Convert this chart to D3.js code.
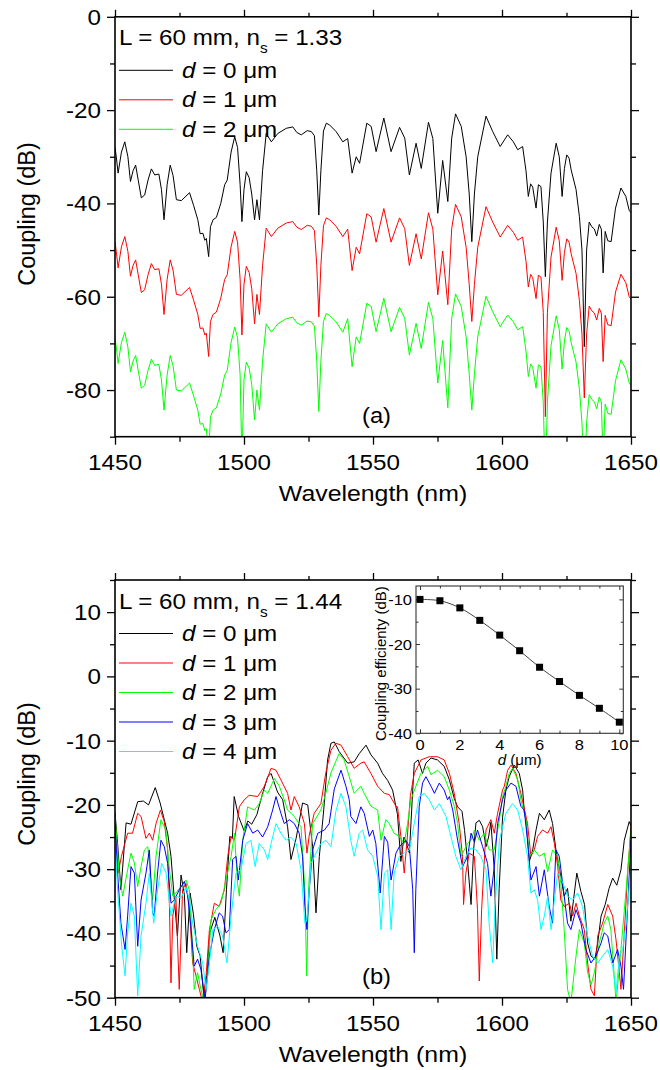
<!DOCTYPE html>
<html><head><meta charset="utf-8">
<script src="https://cdn.jsdelivr.net/npm/d3@7"></script>
<style>
html,body{margin:0;padding:0;background:#fff;}
svg{display:block;font-family:"Liberation Sans",Arial,Helvetica,sans-serif;}
</style></head><body>
<svg id="chart" width="660" height="1070"></svg>
<script>
// ---------------- DATA ----------------
const xTicksMajor = [1450, 1500, 1550, 1600, 1650];
const xTicksMinor = [1475, 1525, 1575, 1625];
const topYTicks = [0, -20, -40, -60, -80];
const topYMinor = [-10, -30, -50, -70, -90];
const botYTicks = [10, 0, -10, -20, -30, -40, -50];
const botYMinor = [15, 5, -5, -15, -25, -35, -45];
const topSeriesNames = ["0", "1", "2"];
const botSeriesNames = ["0", "1", "2", "3", "4"];
const seriesColors = ["#000000", "#ff0000", "#00ff00", "#0000ff", "#00ffff"];

// Panel (a): n_s = 1.33
const topWavelength = [1450.0,1450.5,1451.2,1452.5,1453.8,1455.0,1456.0,1457.0,1458.0,1459.0,
1460.2,1461.5,1462.8,1464.1,1465.4,1467.0,1468.0,1469.0,1470.2,1471.4,
1472.5,1473.8,1475.7,1478.9,1480.5,1482.1,1483.0,1484.1,1484.8,1485.4,
1486.3,1487.0,1488.0,1489.3,1491.0,1492.5,1493.5,1495.0,1496.4,1497.5,
1498.5,1499.2,1500.0,1500.9,1502.0,1503.0,1504.1,1505.0,1506.0,1507.2,
1508.6,1510.6,1513.1,1516.4,1518.9,1520.5,1522.2,1524.5,1526.1,1527.3,
1528.2,1529.0,1529.8,1530.8,1531.9,1533.2,1535.7,1538.3,1540.2,1541.9,
1543.5,1544.8,1547.6,1549.3,1551.2,1554.2,1557.0,1560.3,1562.3,1564.1,
1566.7,1568.7,1571.5,1573.2,1575.1,1577.0,1579.0,1580.5,1582.0,1584.2,
1586.1,1587.3,1588.3,1589.3,1590.6,1593.8,1596.4,1599.3,1602.2,1604.4,
1606.1,1608.0,1609.3,1610.2,1611.1,1611.9,1613.2,1614.1,1615.1,1616.0,
1616.8,1617.6,1619.0,1621.0,1622.2,1623.3,1624.2,1625.1,1626.0,1626.8,
1628.7,1630.0,1631.0,1631.9,1632.8,1633.8,1634.8,1635.8,1636.7,1637.7,
1638.5,1639.2,1640.0,1641.0,1642.3,1644.0,1646.1,1648.0,1649.3,1650.0];
const topD0 = [-28.0,-30.0,-33.5,-29.0,-26.8,-30.0,-35.3,-33.0,-31.8,-35.0,
-38.8,-38.2,-35.0,-32.6,-33.9,-33.7,-37.0,-43.5,-36.0,-31.8,
-34.0,-39.2,-39.4,-37.7,-40.5,-43.5,-46.5,-46.4,-47.9,-47.5,
-51.4,-45.0,-43.5,-43.0,-40.0,-36.0,-35.0,-29.0,-25.7,-28.0,
-36.0,-43.9,-37.0,-33.2,-34.5,-38.0,-43.5,-39.2,-43.5,-33.0,
-25.0,-26.8,-25.0,-23.9,-23.6,-24.8,-25.3,-24.4,-24.6,-25.5,
-33.0,-42.5,-33.0,-24.5,-22.8,-23.2,-24.6,-26.8,-26.1,-33.5,
-30.0,-31.4,-22.8,-23.5,-28.9,-21.7,-28.9,-23.7,-26.0,-33.9,
-27.1,-32.5,-22.6,-26.1,-42.1,-30.8,-39.6,-26.0,-20.8,-23.5,
-30.0,-38.0,-48.2,-38.0,-30.0,-21.3,-24.6,-27.8,-25.3,-26.8,
-28.5,-27.8,-33.0,-38.5,-35.8,-36.5,-41.0,-36.0,-36.4,-44.0,
-55.7,-44.0,-33.5,-27.1,-30.0,-38.5,-32.5,-29.6,-30.3,-32.8,
-37.0,-42.8,-50.0,-70.7,-50.0,-44.0,-45.0,-45.5,-47.0,-44.5,
-45.5,-54.9,-46.0,-48.0,-48.2,-41.0,-36.7,-38.5,-41.5,-42.0];
const topD1 = [-48.3,-50.3,-53.8,-49.3,-47.1,-50.3,-55.6,-53.3,-52.1,-55.3,
-59.1,-58.5,-55.3,-52.9,-54.2,-54.0,-57.3,-63.8,-56.3,-52.1,
-54.3,-59.5,-59.7,-58.0,-60.8,-63.8,-66.8,-66.7,-68.2,-67.8,
-72.8,-65.3,-63.8,-63.3,-60.3,-56.3,-55.3,-49.3,-46.0,-48.3,
-56.3,-68.2,-57.3,-53.5,-54.8,-58.3,-65.8,-59.5,-63.8,-53.3,
-45.3,-47.1,-45.3,-44.2,-43.9,-45.1,-45.6,-44.7,-44.9,-45.8,
-53.3,-64.3,-53.3,-44.8,-43.1,-43.5,-44.9,-47.1,-45.5,-54.4,
-49.4,-50.8,-42.2,-42.9,-48.3,-41.1,-48.3,-43.1,-45.4,-53.3,
-46.5,-51.9,-42.0,-45.5,-59.6,-50.2,-61.7,-45.4,-40.2,-42.9,
-49.4,-57.4,-65.3,-57.4,-49.4,-40.7,-44.0,-47.2,-44.7,-46.2,
-47.9,-47.2,-52.4,-57.9,-55.2,-55.9,-60.4,-55.4,-55.8,-63.4,
-85.7,-63.4,-51.5,-45.1,-48.0,-56.5,-50.5,-47.6,-48.3,-50.8,
-55.0,-60.8,-68.0,-81.7,-68.0,-62.0,-63.0,-63.5,-65.0,-62.5,
-63.5,-73.9,-64.0,-66.0,-66.2,-59.0,-55.2,-57.0,-60.0,-60.5];
const topD2 = [-68.8,-70.8,-74.3,-69.8,-67.6,-70.8,-76.1,-73.8,-72.6,-75.8,
-79.6,-79.0,-75.8,-73.4,-74.7,-74.5,-77.8,-84.3,-76.8,-72.6,
-74.8,-80.0,-80.2,-78.5,-81.3,-84.3,-87.3,-87.2,-88.7,-88.3,
-94.0,-85.8,-84.3,-83.8,-80.8,-76.8,-75.8,-69.8,-66.5,-68.8,
-76.8,-95.0,-77.8,-74.0,-75.3,-78.8,-86.4,-80.0,-84.3,-73.8,
-65.8,-67.6,-65.8,-64.7,-64.4,-65.6,-66.1,-65.2,-65.4,-66.3,
-73.8,-84.6,-73.8,-65.3,-63.6,-64.0,-65.4,-67.6,-64.7,-75.0,
-68.6,-70.0,-61.4,-62.1,-67.5,-60.3,-67.5,-62.3,-64.6,-72.5,
-65.7,-71.1,-61.2,-64.7,-78.5,-69.4,-83.8,-64.6,-59.4,-62.1,
-68.6,-76.6,-84.3,-76.6,-68.6,-59.9,-63.2,-66.4,-63.9,-65.4,
-67.1,-66.4,-71.6,-77.1,-74.4,-75.1,-79.6,-74.6,-75.0,-82.6,
-100.0,-82.6,-70.5,-64.1,-67.0,-75.5,-69.5,-66.6,-67.3,-69.8,
-74.0,-79.8,-87.0,-100.0,-87.0,-81.0,-82.0,-82.5,-84.0,-81.5,
-82.5,-95.0,-83.0,-85.0,-85.2,-78.0,-73.5,-75.5,-78.5,-79.0];

// Panel (b): n_s = 1.44, [wavelength, dB]
const botD0 = [[1450,-21.2],[1451,-26],[1452.3,-33.2],[1453.5,-27],[1454.3,-22.8],[1456.2,-23],[1458.8,-19.5],[1461,-19.4],[1463,-20],[1465.6,-17.3],[1467.5,-19.7],[1469.1,-22.3],[1470.4,-24.4],[1471.7,-28],[1473,-34.7],[1474.2,-40.4],[1475.6,-30.9],[1476.9,-34],[1477.8,-43],[1479.1,-33.7],[1480.4,-37],[1481.7,-42],[1483,-43.5],[1484.4,-49.7],[1485.6,-46.5],[1486.8,-39.8],[1488.7,-37.5],[1490.7,-40.4],[1491.9,-43],[1493.2,-33.2],[1494.5,-24.9],[1495.5,-25.2],[1496.2,-18.7],[1497.9,-21.8],[1500,-24],[1501.5,-22.5],[1503,-23],[1505,-21.5],[1507,-18.5],[1509.2,-15.6],[1510.5,-15.1],[1513,-18],[1515,-19.2],[1516.9,-23.4],[1518.2,-28.5],[1520.2,-25.2],[1522.7,-19.7],[1524.7,-20],[1526.6,-26.5],[1527.9,-36.8],[1529.2,-28],[1530.9,-20.8],[1532.4,-13],[1533.7,-10.4],[1535,-10.2],[1536.9,-11.7],[1540.2,-13.5],[1542.7,-13.3],[1544.7,-12],[1547.3,-10.7],[1549.2,-12.2],[1551.8,-13.5],[1553.7,-15.1],[1555.7,-16.2],[1557.6,-17.7],[1559.5,-21.5],[1560.8,-28.8],[1562,-25],[1563,-26],[1564.1,-27.5],[1565.4,-17.7],[1566,-13.5],[1567.5,-13],[1569.2,-15.1],[1570.5,-13.5],[1572.5,-12.7],[1575,-13],[1577.6,-14],[1579.6,-16.1],[1581.5,-19],[1582.8,-20.3],[1584.5,-21],[1585.5,-24],[1586.7,-29],[1588,-35.5],[1589,-27],[1589.9,-22.8],[1591.2,-22.4],[1592.5,-23.4],[1593.8,-26.5],[1594.8,-25],[1595.7,-22.7],[1597,-30],[1598,-44],[1598.9,-33],[1600.2,-22],[1601.5,-17.7],[1602.8,-15.6],[1604.8,-13.8],[1606.7,-15.1],[1608,-17.7],[1608.6,-20.8],[1609.3,-22.3],[1610.6,-28.8],[1611.9,-27],[1613.2,-23.9],[1614.5,-21.3],[1616.4,-22.3],[1618.3,-20.8],[1619.6,-22.9],[1620.9,-27],[1622.8,-31.1],[1624.1,-34.2],[1625.4,-33],[1626.7,-38.1],[1629,-30.6],[1630.6,-33.5],[1632,-35.5],[1633.2,-41.5],[1634.5,-43.5],[1636,-44],[1637.1,-41.5],[1638.4,-37.3],[1640,-35.5],[1641.5,-33],[1642.9,-31.4],[1644.5,-32.5],[1646.1,-30.1],[1647.4,-25.5],[1649.3,-22.6],[1650,-23.3]];
const botD1 = [[1450,-21.5],[1451.2,-30.6],[1452.5,-28],[1454.9,-24.4],[1456.8,-24.4],[1458.8,-21.3],[1460.1,-21.8],[1462,-25.2],[1463.3,-24.4],[1464.6,-25.5],[1465.9,-22.9],[1467.6,-20.8],[1469.1,-22.6],[1470.4,-27],[1471.1,-35.8],[1471.7,-47.7],[1472.4,-37.3],[1473.6,-34.2],[1474.9,-48.7],[1476.2,-33.2],[1477.5,-32.2],[1478.8,-35.8],[1480.1,-44.6],[1481.4,-46.6],[1482.7,-48.7],[1484,-50.8],[1485.3,-46.6],[1486.6,-39.4],[1488.5,-35.3],[1490.4,-35.8],[1492.4,-33.2],[1493.7,-28],[1495,-24.9],[1496.3,-25.5],[1498.2,-20.3],[1500.1,-19.2],[1502,-18.5],[1505.3,-18.7],[1507.9,-17.1],[1510.5,-14.3],[1512.4,-14.6],[1514.3,-16.1],[1516.9,-18.2],[1518.2,-20.8],[1519.5,-18.7],[1521.4,-20.3],[1523.4,-22.9],[1524.4,-27.5],[1525.3,-24.7],[1527.2,-21.3],[1529.8,-19.8],[1531.7,-15],[1533.7,-11.5],[1535.6,-10.4],[1537.6,-10.7],[1540.2,-12.5],[1542.7,-14.3],[1545.3,-13.5],[1546.6,-13.3],[1549.2,-15.1],[1551.8,-17.1],[1554.4,-18.2],[1556.3,-18.4],[1558.9,-20.2],[1559.5,-20.3],[1560.8,-24.9],[1562.1,-30.6],[1563.2,-25.5],[1564.5,-18.5],[1566,-15.1],[1568.6,-13],[1571.8,-12.5],[1575,-12.5],[1577.6,-13],[1579.6,-15.1],[1581.5,-18.2],[1583.4,-22.9],[1584.7,-28],[1585.1,-35.5],[1586,-30.6],[1587.3,-27.5],[1589.3,-28],[1590.5,-36.3],[1591.2,-47.4],[1592.1,-36.3],[1593.8,-23.9],[1595.7,-22.3],[1597,-24.4],[1598.3,-21.3],[1600.2,-17.7],[1600.9,-17.1],[1602.2,-14.6],[1603.5,-13.8],[1605.4,-15.1],[1607.3,-18.2],[1608.6,-20.5],[1609.9,-22.9],[1611.2,-28],[1612.5,-27],[1613.8,-24.9],[1615.7,-23.9],[1617.7,-24.4],[1619,-23.4],[1620.3,-26],[1621.6,-29.6],[1622.8,-34.8],[1624.1,-35.8],[1626.1,-35.3],[1627.4,-37.3],[1628.7,-35.3],[1630,-37.3],[1631.9,-39.4],[1633.2,-44.6],[1634.5,-48.7],[1635.8,-49.7],[1637.1,-40.4],[1639,-38.4],[1641,-35.5],[1642.9,-37.3],[1644.2,-41],[1645.5,-46.1],[1646.1,-48.7],[1647.4,-40],[1648.7,-30.6],[1650,-23.4]];
const botD2 = [[1450,-21.8],[1451.7,-31.1],[1453,-34.2],[1454.9,-30.1],[1456.2,-27.5],[1457.5,-29],[1458.8,-32.7],[1460.1,-29.6],[1461.4,-27],[1462.7,-26.5],[1464.6,-34.8],[1465.9,-28],[1467.8,-22.3],[1469.7,-23.9],[1471,-29.6],[1472.4,-34.2],[1473.6,-33.7],[1475.6,-32.7],[1477.5,-31.7],[1478.8,-33.2],[1480.1,-42.5],[1480.7,-48.7],[1482,-46.1],[1483.3,-48.7],[1484.6,-50.8],[1485.9,-46.6],[1487.2,-37.9],[1489.1,-36.3],[1491.1,-35.3],[1493,-31.7],[1495,-28],[1496.3,-24.4],[1497.5,-32.2],[1498.2,-34.2],[1499.5,-25.5],[1501.4,-20.3],[1504,-20.8],[1505.9,-19.8],[1507.9,-17.7],[1509.2,-18.2],[1511.8,-15.9],[1513.7,-17.1],[1515.6,-19.2],[1516.9,-20.8],[1519.5,-21.8],[1522.1,-23.4],[1523.6,-33.2],[1524.3,-46.6],[1525,-33.2],[1526.6,-22.9],[1529.8,-20.8],[1531.5,-18.5],[1533.7,-15],[1536.9,-12],[1538.8,-13],[1540.8,-15.6],[1542.7,-18.2],[1545.3,-17.1],[1546.6,-18.2],[1549.2,-20.2],[1551.8,-20.8],[1553.1,-25.5],[1555,-22.3],[1556.3,-22.9],[1558.2,-24.4],[1560.2,-24.9],[1562.1,-26],[1563.4,-22.9],[1564.7,-19.2],[1566.6,-17.1],[1568.6,-15.1],[1571.2,-14],[1572.5,-15.3],[1575,-14.6],[1577.6,-15.6],[1579.6,-17.7],[1581.5,-20.2],[1582.8,-22.9],[1584.1,-28],[1585.4,-27],[1586.7,-26],[1588,-25.5],[1589.3,-23.9],[1591.2,-25.5],[1593.1,-24.4],[1595,-27],[1597,-27],[1599,-22.3],[1600.2,-18.7],[1601.5,-17.1],[1602.8,-15.1],[1604.1,-14.3],[1606.1,-16.1],[1607.3,-19.2],[1609.3,-22.3],[1610.6,-28],[1612.5,-27],[1614.5,-28],[1616.4,-27.5],[1617.7,-30.4],[1619.6,-27],[1621.6,-28],[1622.8,-32.2],[1624.1,-39.4],[1625.4,-48.7],[1626.7,-50.8],[1628.7,-43.5],[1630,-39.4],[1631.9,-41.5],[1633.2,-46.1],[1634.5,-48],[1635.8,-46.1],[1637.7,-41.5],[1639.6,-38.4],[1641,-37.3],[1642.2,-39.4],[1643.5,-46.6],[1644.2,-50.8],[1646.1,-42.5],[1648.1,-33.2],[1650,-23.9]];
const botD3 = [[1450,-22.9],[1451,-30.6],[1452.3,-38.4],[1453.9,-42.5],[1454.9,-37.3],[1456.2,-29.6],[1457.5,-30.6],[1458.8,-42],[1460.1,-34.8],[1462,-30.6],[1463.3,-27],[1464.6,-36.8],[1465.2,-37.3],[1466.5,-30.6],[1467.8,-25.5],[1469.1,-26.5],[1470.4,-29.1],[1471.7,-35.3],[1473,-34.8],[1474.9,-33.2],[1476.9,-31.9],[1478.2,-34.2],[1479.5,-39.4],[1480.7,-45.1],[1482,-44],[1483.3,-45.6],[1484.9,-50.3],[1486.6,-43.5],[1488.5,-39.4],[1490.4,-36.8],[1491.7,-37.3],[1493,-39.9],[1494.3,-39.4],[1495.6,-28.5],[1496.9,-28],[1497.8,-31.7],[1499.5,-25.5],[1501.4,-22.9],[1503.4,-24.4],[1505.3,-23.9],[1507.2,-25],[1509.2,-23.4],[1511.1,-20.8],[1512.4,-18.7],[1514.3,-21.3],[1515.6,-22.9],[1517.6,-22.3],[1519.5,-22.9],[1521.4,-24.4],[1522.7,-28],[1523.6,-35.8],[1524.4,-39.4],[1525.3,-33.2],[1526.6,-27],[1528.6,-24.4],[1531.2,-23.9],[1533,-22.9],[1535,-17.5],[1537.6,-14.6],[1539.5,-17.1],[1540.8,-19.2],[1541.4,-21.8],[1543.4,-22.9],[1545.3,-20.3],[1546.6,-21.3],[1548.6,-24.9],[1549.9,-23.9],[1551.1,-26],[1552.8,-33.7],[1554.4,-24.9],[1555.7,-25.8],[1557,-31.7],[1558.9,-27.5],[1560.2,-26.5],[1561.5,-26],[1562.8,-25.5],[1564.1,-26.5],[1565.4,-33.2],[1566,-43],[1566.6,-33.2],[1567.9,-20.3],[1569.2,-16.6],[1570.5,-15.6],[1572.5,-17.1],[1573.8,-18.2],[1575.7,-16.6],[1577.6,-17.7],[1578.9,-19.2],[1579.6,-18.7],[1580.9,-20.8],[1582.8,-25.5],[1584.7,-29.6],[1586.7,-28],[1588,-24.4],[1589.3,-25.8],[1590.5,-23.9],[1592.5,-26.5],[1594.4,-29.1],[1595.7,-34.2],[1597,-29.6],[1598.3,-22.9],[1600.2,-19.2],[1601.5,-17.7],[1603.5,-16.6],[1605.4,-17.1],[1607.3,-20.2],[1608.6,-20.8],[1609.9,-25.5],[1611.2,-31.7],[1613.2,-29.6],[1614.5,-34.2],[1616.4,-30.1],[1618.3,-35.8],[1619.6,-38.4],[1620.9,-27],[1622.2,-28],[1623.5,-32.2],[1625.4,-38.4],[1626.7,-39.4],[1628.7,-36.3],[1630.6,-38.4],[1632.5,-42.5],[1634.5,-44.6],[1636.4,-43.5],[1638.4,-41.5],[1639.6,-39.9],[1641,-40.4],[1642.9,-44.6],[1644.8,-42.5],[1646.1,-45.1],[1647.1,-48.7],[1648.7,-35.8],[1650,-25.5]];
const botD4 = [[1450,-25.5],[1451,-33.2],[1452.6,-42],[1453.9,-46.6],[1454.9,-39.9],[1456.2,-35.3],[1457.5,-37.3],[1458.8,-49.7],[1460.1,-40.4],[1462,-35.3],[1463.3,-30.6],[1465,-38.4],[1466.5,-33.2],[1468.1,-29.1],[1469.8,-30.6],[1471.7,-37.3],[1473.6,-34.2],[1475.6,-34.5],[1477.5,-32.7],[1478.8,-34.8],[1480.1,-38.4],[1482,-42],[1484,-44.6],[1485.3,-48.7],[1486.6,-44.6],[1487.9,-39.4],[1489.8,-38.9],[1491.7,-40.4],[1493.4,-44.6],[1495,-37.3],[1496.9,-30.6],[1498.8,-30.1],[1500.8,-26],[1502.7,-25.5],[1504.3,-29.6],[1505.9,-26],[1507.9,-27],[1509.2,-28.5],[1510.5,-26],[1512.4,-22.9],[1514.3,-24.4],[1516.3,-25.5],[1518.2,-25],[1520.2,-26],[1522.1,-30.1],[1523.6,-38.4],[1524.4,-37.9],[1526,-29.1],[1527.9,-27.5],[1529.8,-26],[1531.7,-25.5],[1533.7,-26.5],[1535.6,-21],[1537.6,-18.2],[1539.5,-20.3],[1541.4,-25.5],[1542.7,-28],[1544.7,-24.4],[1546,-23.9],[1547.9,-27],[1549.9,-28],[1551.8,-31.1],[1553.1,-39.4],[1554.4,-30.6],[1555.7,-30.1],[1557,-39.4],[1558.2,-30.6],[1560.2,-28],[1562.1,-27.5],[1564.1,-27],[1566,-22.9],[1567.9,-18.7],[1569.9,-18.2],[1571.8,-19.2],[1573.8,-20.8],[1575.7,-19.8],[1578.3,-21.8],[1580.2,-24.9],[1582.1,-28],[1584.1,-30.1],[1586,-28],[1588,-26.7],[1589.9,-27],[1591.8,-28],[1593.8,-30.1],[1595,-38.4],[1596.4,-44.6],[1597.3,-35.8],[1599,-25.5],[1601.5,-21.3],[1604.1,-19.8],[1606.1,-20.8],[1608,-23.9],[1609.9,-28],[1611.2,-33.7],[1612.5,-33.2],[1613.8,-34.8],[1615.1,-39.4],[1616.4,-37.3],[1617.7,-34.2],[1619,-39.4],[1620.3,-34.8],[1621.6,-30.6],[1623.5,-32],[1625.4,-34.2],[1627.4,-34.8],[1629.3,-33.7],[1631.2,-35.8],[1633.2,-40.4],[1635.1,-43.5],[1637.1,-44.6],[1639,-43.5],[1641,-42.5],[1642.9,-45.1],[1644.2,-49.2],[1645.5,-43.5],[1646.8,-42.5],[1648.1,-38.4],[1650,-29.6]];

// Inset: coupling efficiency vs d
const insetD = [0, 1, 2, 3, 4, 5, 6, 7, 8, 9, 10];
const insetCE = [-10.0, -10.3, -11.9, -14.7, -18.0, -21.5, -25.2, -28.4, -31.5, -34.4, -37.5];
const insetXTicks = [0, 2, 4, 6, 8, 10];
const insetXMinor = [1, 3, 5, 7, 9];
const insetYTicks = [-10, -20, -30, -40];
const insetYMinor = [-15, -25, -35];

// ---------------- DRAWING ----------------
const SX = 1.1;
const svg = d3.select('#chart');
const L = 115, R = 631;

function txt(parent, x, y, size, anchor, sx) {
  return parent.append('text')
    .attr('transform', `translate(${x},${y}) scale(${sx === undefined ? SX : sx},1)`)
    .attr('font-size', size).attr('text-anchor', anchor).attr('fill', '#000');
}

function styleAxis(g) {
  g.select('.domain').remove();
  g.selectAll('line').attr('stroke', '#000').attr('stroke-width', 1.3);
  g.selectAll('text').remove();
}

function panel(cfg) {
  const g = svg.append('g');
  const x = d3.scaleLinear().domain([1450, 1650]).range([L, R]);
  const y = d3.scaleLinear().domain(cfg.yDomain).range([cfg.bottom, cfg.top]);
  const clipId = 'clip' + cfg.id;
  g.append('clipPath').attr('id', clipId).append('rect')
    .attr('x', L).attr('y', cfg.top).attr('width', R - L).attr('height', cfg.bottom - cfg.top);

  // lines
  const line = d3.line().x(d => x(d[0])).y(d => y(d[1]));
  const lg = g.append('g').attr('clip-path', `url(#${clipId})`);
  cfg.series.forEach((s, i) => {
    lg.append('path').datum(s).attr('d', line)
      .attr('fill', 'none').attr('stroke', seriesColors[i]).attr('stroke-width', 1)
      .attr('stroke-linejoin', 'round');
  });

  // axes ticks (outward)
  g.append('g').attr('transform', `translate(0,${cfg.bottom})`)
    .call(d3.axisBottom(x).tickValues(xTicksMajor).tickSize(8)).call(styleAxis);
  g.append('g').attr('transform', `translate(0,${cfg.bottom})`)
    .call(d3.axisBottom(x).tickValues(xTicksMinor).tickSize(5)).call(styleAxis);
  g.append('g').attr('transform', `translate(0,${cfg.top})`)
    .call(d3.axisTop(x).tickValues(xTicksMajor).tickSize(7)).call(styleAxis);
  g.append('g').attr('transform', `translate(0,${cfg.top})`)
    .call(d3.axisTop(x).tickValues(xTicksMinor).tickSize(4)).call(styleAxis);
  g.append('g').attr('transform', `translate(${L},0)`)
    .call(d3.axisLeft(y).tickValues(cfg.yTicks).tickSize(8)).call(styleAxis);
  g.append('g').attr('transform', `translate(${L},0)`)
    .call(d3.axisLeft(y).tickValues(cfg.yMinor).tickSize(5)).call(styleAxis);
  g.append('g').attr('transform', `translate(${R},0)`)
    .call(d3.axisRight(y).tickValues(cfg.yTicks).tickSize(8)).call(styleAxis);
  g.append('g').attr('transform', `translate(${R},0)`)
    .call(d3.axisRight(y).tickValues(cfg.yMinor).tickSize(5)).call(styleAxis);

  // frame
  g.append('rect').attr('x', L).attr('y', cfg.top).attr('width', R - L).attr('height', cfg.bottom - cfg.top)
    .attr('fill', 'none').attr('stroke', '#000').attr('stroke-width', 1.6);

  // tick labels
  xTicksMajor.forEach(v => txt(g, x(v), cfg.bottom + 33, 22, 'middle').text(v));
  cfg.yTicks.forEach(v => txt(g, L - 14, y(v) + 8, 22, 'end').text(v));

  // titles
  txt(g, (L + R) / 2, cfg.bottom + 64, 22, 'middle', 1.13).text('Wavelength (nm)');
  g.append('text').attr('transform', `translate(35,${cfg.yTitleY}) rotate(-90)`)
    .attr('font-size', 23.5).attr('text-anchor', 'middle').text('Coupling (dB)');

  // legend header
  const hy = cfg.top + 28.5;
  const h = txt(g, 119, hy, 22, 'start');
  h.append('tspan').text('L = 60 mm, n');
  h.append('tspan').attr('font-size', 14).attr('dy', 8).text('s');
  h.append('tspan').attr('dy', -8).text(' = ' + cfg.ns);
  cfg.names.forEach((nm, i) => {
    const ly = hy + 25 + i * 29.5;
    g.append('line').attr('x1', 119).attr('x2', 173).attr('y1', ly).attr('y2', ly)
      .attr('stroke', seriesColors[i]).attr('stroke-width', 1);
    const t = txt(g, 182, ly + 7.5, 22, 'start');
    t.append('tspan').attr('font-style', 'italic').text('d');
    t.append('tspan').text(' = ' + nm + ' \u03BCm');
  });

  // panel label
  txt(g, 362, cfg.bottom - 14, 22, 'start', 1.08).text(cfg.label);
  return g;
}

panel({id: 'a', top: 16.8, bottom: 436.7, yDomain: [-90, 0], yTicks: topYTicks, yMinor: topYMinor,
  series: [topD0, topD1, topD2].map(arr => arr.map((v, i) => [topWavelength[i], v])),
  names: topSeriesNames, ns: '1.33', label: '(a)', yTitleY: 214});

panel({id: 'b', top: 580, bottom: 997.7, yDomain: [-50, 15], yTicks: botYTicks, yMinor: botYMinor,
  series: [botD0, botD1, botD2, botD3, botD4],
  names: botSeriesNames, ns: '1.44', label: '(b)', yTitleY: 774});

// ---------------- INSET ----------------
(function inset() {
  const iL = 416, iR = 623.3, iT = 586, iB = 733.3;
  const g = svg.append('g');
  const x = d3.scaleLinear().domain([-0.2, 10.2]).range([iL, iR]);
  const y = d3.scaleLinear().domain([-40, -7]).range([iB, iT]);
  g.append('rect').attr('x', iL).attr('y', iT).attr('width', iR - iL).attr('height', iB - iT)
    .attr('fill', '#fff');

  const st = sel => { sel.select('.domain').remove(); sel.selectAll('line').attr('stroke', '#333').attr('stroke-width', 1); sel.selectAll('text').remove(); };
  g.append('g').attr('transform', `translate(0,${iB})`).call(d3.axisTop(x).tickValues(insetXTicks).tickSize(4)).call(st);
  g.append('g').attr('transform', `translate(0,${iB})`).call(d3.axisTop(x).tickValues(insetXMinor).tickSize(2.5)).call(st);
  g.append('g').attr('transform', `translate(0,${iT})`).call(d3.axisBottom(x).tickValues(insetXTicks).tickSize(4)).call(st);
  g.append('g').attr('transform', `translate(0,${iT})`).call(d3.axisBottom(x).tickValues(insetXMinor).tickSize(2.5)).call(st);
  g.append('g').attr('transform', `translate(${iL},0)`).call(d3.axisRight(y).tickValues(insetYTicks).tickSize(4)).call(st);
  g.append('g').attr('transform', `translate(${iL},0)`).call(d3.axisRight(y).tickValues(insetYMinor).tickSize(2.5)).call(st);
  g.append('g').attr('transform', `translate(${iR},0)`).call(d3.axisLeft(y).tickValues(insetYTicks).tickSize(4)).call(st);
  g.append('g').attr('transform', `translate(${iR},0)`).call(d3.axisLeft(y).tickValues(insetYMinor).tickSize(2.5)).call(st);

  g.append('rect').attr('x', iL).attr('y', iT).attr('width', iR - iL).attr('height', iB - iT)
    .attr('fill', 'none').attr('stroke', '#333').attr('stroke-width', 1.1);

  const pts = insetD.map((d, i) => [d, insetCE[i]]);
  g.append('path').datum(pts)
    .attr('d', d3.line().x(d => x(d[0])).y(d => y(d[1])).curve(d3.curveCatmullRom))
    .attr('fill', 'none').attr('stroke', '#444').attr('stroke-width', 1);
  g.selectAll('rect.m').data(pts).enter().append('rect').attr('class', 'm')
    .attr('x', d => x(d[0]) - 3.5).attr('y', d => y(d[1]) - 3.5)
    .attr('width', 7).attr('height', 7).attr('fill', '#000');

  insetXTicks.forEach(v => txt(g, x(v), iB + 16.5, 15, 'middle').text(v));
  insetYTicks.forEach(v => txt(g, iL - 4, y(v) + 5.5, 15, 'end').text(v));

  const xt = txt(g, (iL + iR) / 2, iB + 32, 14, 'middle', 1.08);
  xt.append('tspan').attr('font-style', 'italic').text('d');
  xt.append('tspan').text(' (\u03BCm)');
  g.append('text').attr('transform', `translate(386,${(iT + iB) / 2 + 4}) rotate(-90)`)
    .attr('font-size', 15).attr('text-anchor', 'middle').text('Coupling efficienty (dB)');
})();
</script>
</body></html>
